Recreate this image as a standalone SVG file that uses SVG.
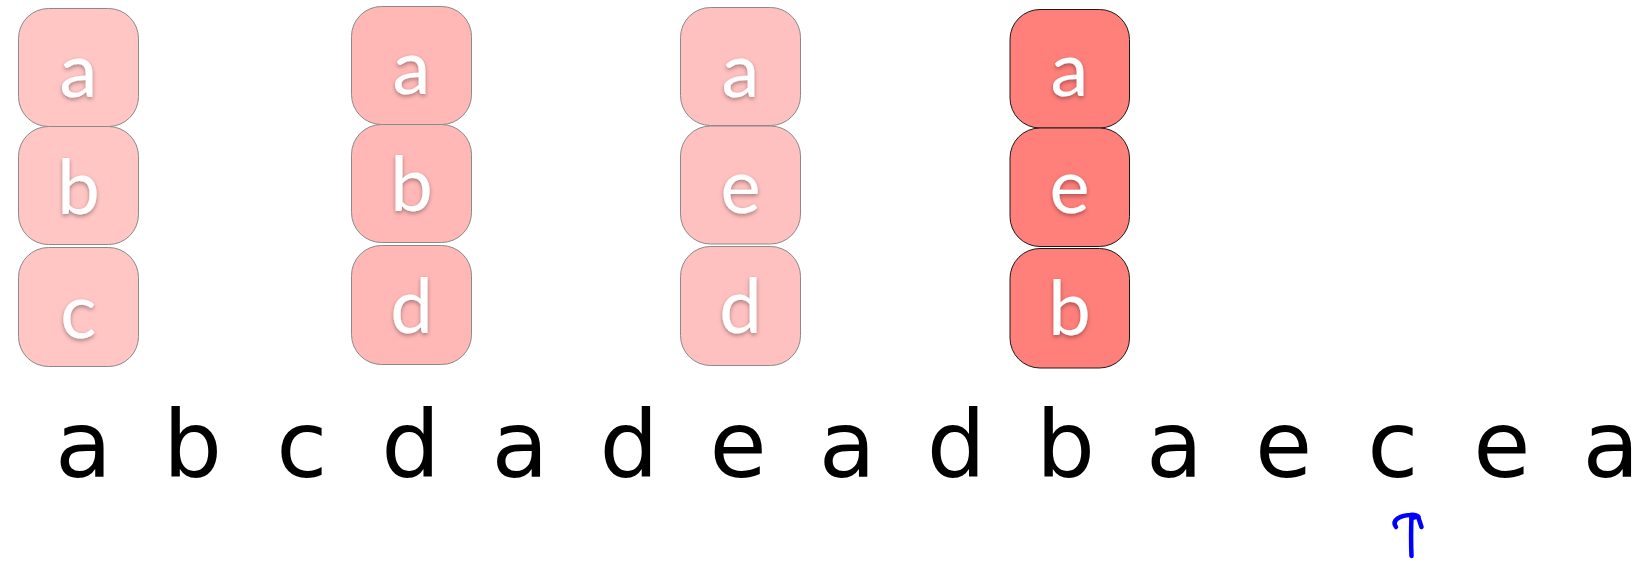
<svg xmlns="http://www.w3.org/2000/svg" width="1650" height="569" viewBox="0 0 1650 569">
<defs>
<style>
.box{stroke:#8a8a8a;stroke-width:1}
.c1{fill:#FFC6C4}
.c2{fill:#FFB8B6}
.c3{fill:#FFC1BF}
.c4{fill:#FF7F7A;stroke:#1a1a1a}
.bl{font-family:Lato,"Open Sans",sans-serif;font-size:76px;fill:#fff;text-anchor:middle;filter:url(#sh)}
.seq{font-family:"DejaVu Sans",sans-serif;font-size:93px;fill:#000;text-anchor:middle}
</style>
<filter id="sh" x="-30%" y="-30%" width="160%" height="160%">
<feDropShadow dx="0" dy="2" stdDeviation="2" flood-color="#000" flood-opacity="0.35"/>
</filter>
</defs>
<rect width="1650" height="569" fill="#fff"/>
<g id="col1">
<g id="n1a"><rect class="box c1" x="18.5" y="8.5" width="120" height="118" rx="30"/><text class="bl" x="78.5" y="97">a</text></g>
<g id="n1b"><rect class="box c1" x="18.5" y="126.5" width="120" height="118" rx="30"/><text class="bl" x="78.5" y="214">b</text></g>
<g id="n1c"><rect class="box c1" x="18.5" y="247.5" width="120" height="119" rx="30"/><text class="bl" x="78.5" y="338">c</text></g>
</g>
<g id="col2">
<g id="n2a"><rect class="box c2" x="351.5" y="6.5" width="120" height="118" rx="30"/><text class="bl" x="411.5" y="94">a</text></g>
<g id="n2b"><rect class="box c2" x="351.5" y="124.5" width="120" height="118" rx="30"/><text class="bl" x="411.5" y="211">b</text></g>
<g id="n2d"><rect class="box c2" x="351.5" y="245.5" width="120" height="119" rx="30"/><text class="bl" x="411.5" y="333">d</text></g>
</g>
<g id="col3">
<g id="n3a"><rect class="box c3" x="680.5" y="7.5" width="120" height="118" rx="30"/><text class="bl" x="740.5" y="97">a</text></g>
<g id="n3e"><rect class="box c3" x="680.5" y="126" width="120" height="118" rx="30"/><text class="bl" x="740.5" y="213">e</text></g>
<g id="n3d"><rect class="box c3" x="680.5" y="246.5" width="120" height="119" rx="30"/><text class="bl" x="740.5" y="333">d</text></g>
</g>
<g id="col4">
<g id="n4a"><rect class="box c4" x="1010" y="9.5" width="119.5" height="118.5" rx="30"/><text class="bl" x="1069.5" y="96">a</text></g>
<g id="n4e"><rect class="box c4" x="1010" y="128" width="119.5" height="118.5" rx="30"/><text class="bl" x="1069.5" y="213">e</text></g>
<g id="n4b"><rect class="box c4" x="1010" y="248.5" width="119.5" height="119.5" rx="30"/><text class="bl" x="1069.5" y="335">b</text></g>
</g>
<g id="sequence">
<text class="seq" x="83.5" y="477">a</text>
<text class="seq" x="192.6" y="477">b</text>
<text class="seq" x="301.7" y="477">c</text>
<text class="seq" x="410.8" y="477">d</text>
<text class="seq" x="519.9" y="477">a</text>
<text class="seq" x="629" y="477">d</text>
<text class="seq" x="738.1" y="477">e</text>
<text class="seq" x="847.2" y="477">a</text>
<text class="seq" x="956.3" y="477">d</text>
<text class="seq" x="1065.4" y="477">b</text>
<text class="seq" x="1174.5" y="477">a</text>
<text class="seq" x="1283.6" y="477">e</text>
<text class="seq" x="1392.7" y="477">c</text>
<text class="seq" x="1501.8" y="477">e</text>
<text class="seq" x="1610.9" y="477">a</text>
</g>
<g id="connectors" fill="none" stroke="#0000FF" stroke-width="4.5" stroke-linecap="round" stroke-linejoin="round">
<path d="M1411.5 556 C1411 545 1411 530 1411.5 516"/>
<path d="M1396 527 C1391 520 1400 515.5 1410 515 C1414 514.5 1417 515.5 1418.5 517"/>
<path d="M1411.5 518 L1418 516.5 L1421.5 527"/>
</g>
</svg>
